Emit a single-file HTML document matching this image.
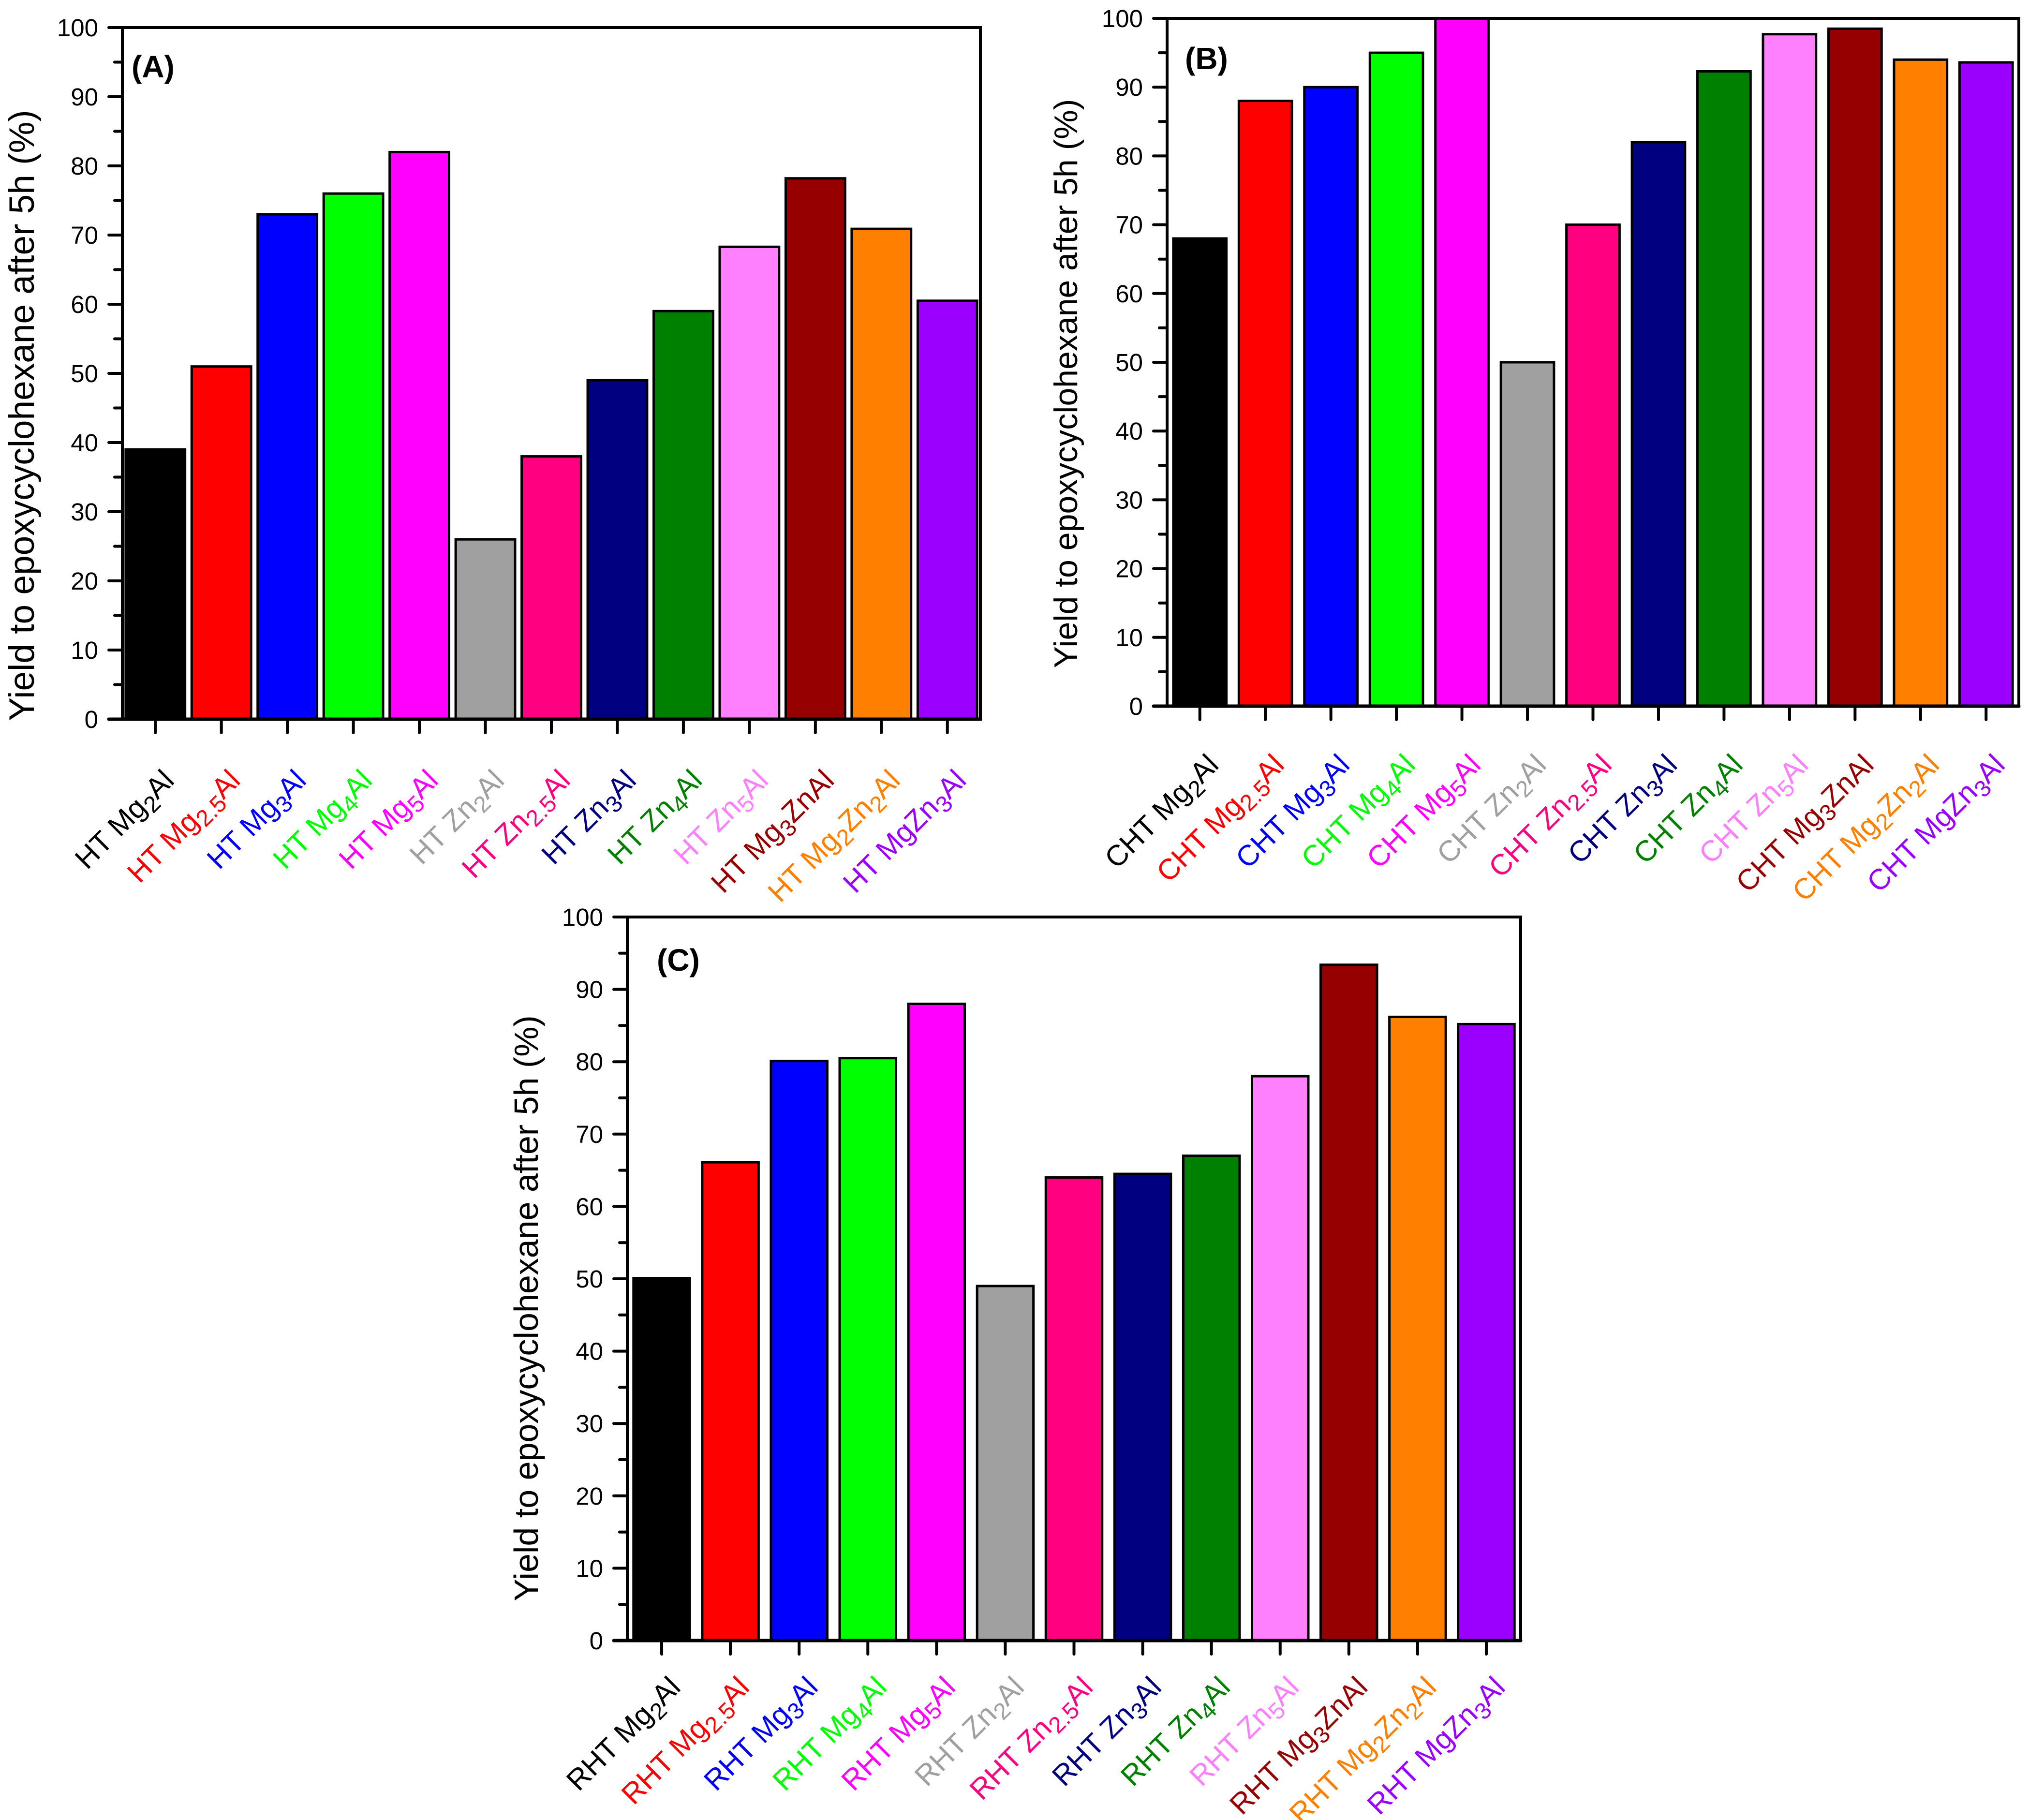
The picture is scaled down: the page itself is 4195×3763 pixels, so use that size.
<!DOCTYPE html>
<html><head><meta charset="utf-8">
<style>
html,body{margin:0;padding:0;background:#fff;}
svg{display:block;font-family:"Liberation Sans",Arial,sans-serif;}
</style></head>
<body>
<svg id="fig" width="4195" height="3763" viewBox="0 0 4195 3763" xmlns="http://www.w3.org/2000/svg"></svg>
<script>
// Shared data
const colors = ["#000000","#ff0000","#0000ff","#00ff00","#ff00ff","#a0a0a0","#ff0080","#000080","#008000","#ff80ff","#960000","#ff8000","#9b00ff"];
const compositions = ["Mg_2Al","Mg_2.5Al","Mg_3Al","Mg_4Al","Mg_5Al","Zn_2Al","Zn_2.5Al","Zn_3Al","Zn_4Al","Zn_5Al","Mg_3ZnAl","Mg_2Zn_2Al","MgZn_3Al"];
const yTicks = [0,10,20,30,40,50,60,70,80,90,100];
const valuesA = [39,51,73,76,82,26,38,49,59,68.3,78.2,70.9,60.5];
const valuesB = [68,88,90,95,100,50,70,82,92.3,97.7,98.5,94,93.6];
const valuesC = [50.1,66.1,80.1,80.5,88,49,64,64.5,67,78,93.4,86.2,85.2];
const prefixes = ["HT","CHT","RHT"];
const panelLabels = ["(A)","(B)","(C)"];

const NS="http://www.w3.org/2000/svg";
const svg=document.getElementById('fig');
function mk(tag,attrs,parent){const e=document.createElementNS(NS,tag);for(const k in attrs)e.setAttribute(k,attrs[k]);(parent||svg).appendChild(e);return e;}

function drawPanel(cfg,values,prefix,plabel,key){
  const g=mk('g',{});
  
  
  const L=cfg.l,R=cfg.r,T=cfg.t,B=cfg.b;
  const xs=i=>L+(i+1-0.5)/13*(R-L);
  const ys=v=>B-v/100*(B-T);
  const bw=cfg.bw*(R-L)/13;
  values.forEach((v,i)=>{
    const r=mk('rect',{x:xs(i)-bw/2,y:ys(v),width:bw,height:B-ys(v),fill:colors[i],stroke:'#000','stroke-width':5},g);
    
    
  });
  const fr=mk('rect',{x:L,y:T,width:R-L,height:B-T,fill:'none',stroke:'#000','stroke-width':6},g);
  
  
  const xl=mk('line',{x1:L-28,y1:B,x2:R,y2:B,stroke:'#000','stroke-width':7,'stroke-linecap':'round'},g);
  
  
  yTicks.forEach(t=>{
    mk('line',{x1:L-28,y1:ys(t),x2:L,y2:ys(t),stroke:'#000','stroke-width':6,'stroke-linecap':'round'},g);
    if(t<100) mk('line',{x1:L-16,y1:ys(t+5),x2:L,y2:ys(t+5),stroke:'#000','stroke-width':6,'stroke-linecap':'round'},g);
    const tx=mk('text',{x:L-50,y:ys(t)+18,'font-size':51,'text-anchor':'end',fill:'#000'},g);
    tx.textContent=t;
    
    
  });
  compositions.forEach((c,i)=>{
    const x=xs(i);
    mk('line',{x1:x,y1:B,x2:x,y2:B+28,stroke:'#000','stroke-width':6,'stroke-linecap':'round'},g);
    const ax=x+42,ay=B+cfg.ly;
    const tx=mk('text',{x:ax,y:ay,'font-size':60,'text-anchor':'end',fill:colors[i],transform:`rotate(-45 ${ax} ${ay})`},g);
    
    
    const parts=(prefix+' '+c).split(/_([0-9.]+)/);
    parts.forEach((p,j)=>{
      if(!p)return;
      const ts=mk('tspan',{},tx);
      if(j%2===1){ts.setAttribute('font-size','48');ts.setAttribute('dy','14');}
      else if(j>0){ts.setAttribute('dy','-14');}
      ts.textContent=p;
    });
  });
  const cx=cfg.tx,cy=cfg.ty;
  const yt=mk('text',{x:cx,y:cy,'font-size':cfg.tf,'text-anchor':'middle',fill:'#000',transform:`rotate(-90 ${cx} ${cy})`},g);
  yt.textContent='Yield to epoxycyclohexane after 5h (%)';
  
  
  const pl=mk('text',{x:cfg.px,y:cfg.py,'font-size':64,'font-weight':'bold',fill:'#000'},g);
  pl.textContent=plabel;
  
  
}

drawPanel({l:253,r:2027,t:57,b:1487,bw:0.9,tx:70,ty:859,tf:73,px:272,py:160,ly:130},valuesA,prefixes[0],panelLabels[0],'a');
drawPanel({l:2413,r:4174,t:38,b:1460,bw:0.81,tx:2227,ty:793,tf:68,px:2450,py:143,ly:125},valuesB,prefixes[1],panelLabels[1],'b');
drawPanel({l:1297,r:3144,t:1896,b:3392,bw:0.82,tx:1112,ty:2705,tf:70,px:1358,py:2007,ly:100},valuesC,prefixes[2],panelLabels[2],'c');
</script>
</body></html>
